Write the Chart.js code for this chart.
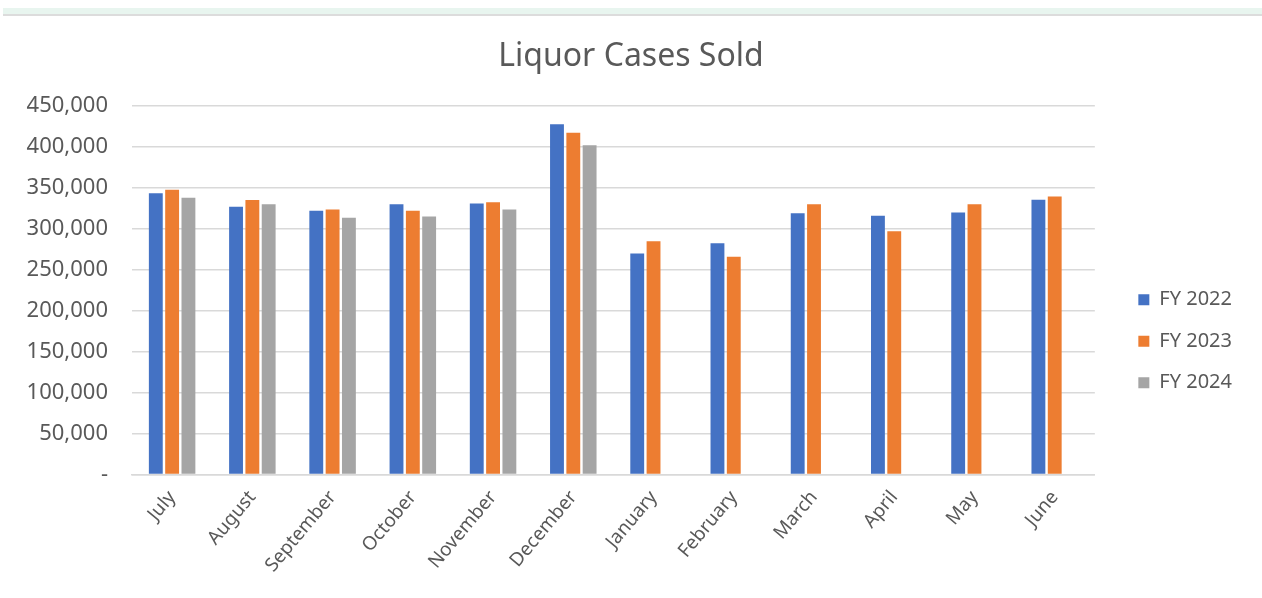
<!DOCTYPE html>
<html>
<head>
<meta charset="utf-8">
<script src="https://cdn.jsdelivr.net/npm/chart.js"></script>
<style>
  html, body { margin: 0; padding: 0; background: #fff; }
  #wrap { position: relative; width: 1262px; height: 598px; }
  /* thin spreadsheet strip at the very top of the screenshot */
  #strip { position: absolute; left: 3px; right: 0; top: 8px; height: 6px; background: #e8f5ef; border-bottom: 2px solid #dcdcdc; }
</style>
</head>
<body>
<div id="wrap">
  <div id="strip"></div>
  <canvas id="myChart" width="1262" height="598"></canvas>
</div>

<script>
    // Months of the fiscal year
    const months = ['July', 'August', 'September', 'October', 'November', 'December',
                    'January', 'February', 'March', 'April', 'May', 'June'];

    // Cases sold per month
    const fy2022 = [343000, 326500, 321500, 329500, 330500, 427000, 269500, 282000, 318500, 315500, 319500, 335000];
    const fy2023 = [347000, 334500, 323000, 321500, 332000, 416500, 284500, 265500, 329500, 296500, 329500, 339000];
    const fy2024 = [337500, 329500, 313000, 314500, 323000, 401500, null, null, null, null, null, null];

    const yTicks = [0, 50000, 100000, 150000, 200000, 250000, 300000, 350000, 400000, 450000];

    const font = "'Noto Sans', 'DejaVu Sans', sans-serif";
    const grey = '#595959';

    // centre the title on the whole canvas, not on the padded area
    const centreTitle = {
        id: 'centreTitle',
        afterLayout(chart) {
            const t = chart.titleBlock;
            if (t) { t.left = 0; t.right = chart.width; }
        }
    };

    const ctx = document.getElementById('myChart').getContext('2d');

    const myChart = new Chart(ctx, {
        type: 'bar',
        data: {
            labels: months,
            datasets: [
                { label: 'FY 2022', data: fy2022, backgroundColor: '#4472C4' },
                { label: 'FY 2023', data: fy2023, backgroundColor: '#ED7D31' },
                { label: 'FY 2024', data: fy2024, backgroundColor: '#A5A5A5' }
            ]
        },
        plugins: [centreTitle],
        options: {
            responsive: false,
            animation: false,
            devicePixelRatio: 1,
            categoryPercentage: 0.61,
            barPercentage: 0.85,
            layout: { padding: { left: 0, right: 20, top: 0, bottom: 17.5 } },
            plugins: {
                title: {
                    display: true,
                    text: 'Liquor Cases Sold',
                    color: grey,
                    font: { family: font, size: 32, weight: 'normal' },
                    padding: { top: 38, bottom: 29 }
                },
                legend: {
                    position: 'right',
                    // blank legend title only pushes the items down
                    title: { display: true, text: ' ', font: { size: 10 }, padding: { top: 45, bottom: 45 } },
                    labels: {
                        color: grey,
                        font: { family: font, size: 20 },
                        boxWidth: 11,
                        boxHeight: 11,
                        padding: 21.5
                    }
                },
                tooltip: { enabled: false }
            },
            scales: {
                x: {
                    grid: { display: false },
                    border: { color: '#d9d9d9', width: 1.5 },
                    ticks: {
                        color: grey,
                        font: { family: font, size: 19 },
                        maxRotation: 50,
                        minRotation: 50,
                        padding: 4
                    }
                },
                y: {
                    min: 0,
                    max: 450000,
                    afterBuildTicks: scale => { scale.ticks = yTicks.map(v => ({ value: v })); },
                    afterFit: scale => { scale.width = 132; },
                    grid: { color: '#d9d9d9', lineWidth: 1.5, drawTicks: false },
                    border: { display: false },
                    ticks: {
                        color: grey,
                        font: { family: font, size: 22 },
                        padding: 24,
                        callback: v => v === 0 ? '-' : v.toLocaleString('en-US')
                    }
                },
                // empty spacer between plot and legend
                gap: {
                    position: 'right',
                    display: true,
                    grid: { display: false },
                    border: { display: false },
                    ticks: { display: false },
                    afterFit: scale => { scale.width = 22; }
                }
            }
        }
    });
</script>
</body>
</html>
